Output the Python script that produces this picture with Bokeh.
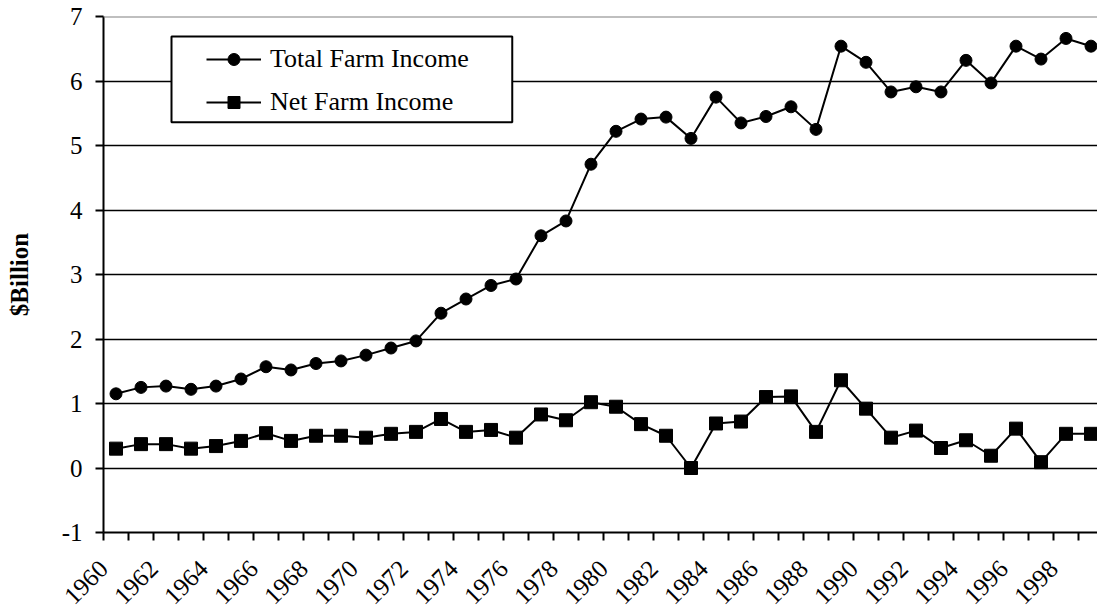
from bokeh.plotting import figure
from bokeh.models import (FixedTicker, Range1d, Legend, LegendItem,
                          BoxAnnotation, Span)
from bokeh.embed import file_html
from bokeh.resources import INLINE

# Farm income, $ billion, 1960-1999
years = list(range(1960, 2000))
total_income = [1.15, 1.25, 1.27, 1.22, 1.27, 1.38, 1.57, 1.52, 1.62, 1.66,
                1.75, 1.86, 1.97, 2.40, 2.62, 2.83, 2.93, 3.60, 3.83, 4.71,
                5.22, 5.41, 5.44, 5.11, 5.75, 5.35, 5.45, 5.60, 5.25, 6.54,
                6.29, 5.83, 5.91, 5.83, 6.32, 5.97, 6.54, 6.34, 6.66, 6.54]
net_income = [0.30, 0.37, 0.37, 0.30, 0.34, 0.42, 0.54, 0.42, 0.50, 0.50,
              0.47, 0.53, 0.56, 0.76, 0.56, 0.59, 0.47, 0.83, 0.74, 1.02,
              0.95, 0.68, 0.50, 0.00, 0.69, 0.72, 1.10, 1.11, 0.56, 1.36,
              0.92, 0.47, 0.58, 0.31, 0.43, 0.19, 0.61, 0.09, 0.53, 0.53]
year_labels = [str(y) for y in range(1960, 2000, 2)]
y_ticks = list(range(-1, 8))

FONT = "Times New Roman, Liberation Serif, serif"

# each year occupies one category slot; points sit in the middle of the slot
x_mid = [y + 0.5 for y in years]

p = figure(width=1097, height=614, output_backend="svg", toolbar_location=None,
           x_range=Range1d(1960, 1999.76), y_range=Range1d(-1, 7),
           min_border_left=103, min_border_right=0, min_border_top=16,
           min_border_bottom=82)
p.outline_line_color = None
p.background_fill_color = "white"
p.border_fill_color = "white"

# axes
p.xaxis.ticker = FixedTicker(ticks=years)
p.xaxis.major_label_overrides = {y: (str(y) if str(y) in year_labels else "")
                                 for y in years}
p.xaxis.major_label_orientation = 0.785398
p.xaxis.minor_tick_line_color = None
p.xaxis.major_tick_in = 0
p.xaxis.major_tick_out = 8
p.xaxis.major_label_standoff = 24
p.xaxis.axis_line_width = 2
p.xaxis.major_tick_line_width = 2

p.yaxis.ticker = FixedTicker(ticks=y_ticks)
p.yaxis.major_label_overrides = {t: str(t) for t in y_ticks}
p.yaxis.minor_tick_line_color = None
p.yaxis.major_tick_in = 0
p.yaxis.major_tick_out = 8
p.yaxis.major_label_standoff = 13
p.yaxis.axis_line_width = 2
p.yaxis.major_tick_line_width = 2
p.yaxis.axis_label = "$Billion"
p.yaxis.axis_label_text_font_style = "bold"
p.yaxis.axis_label_standoff = 26

for ax in (p.xaxis, p.yaxis):
    ax.major_label_text_font = FONT
    ax.major_label_text_font_size = "25px"
    ax.major_label_text_color = "black"
    ax.axis_label_text_font = FONT
    ax.axis_label_text_font_size = "25px"
    ax.axis_label_text_color = "black"
    ax.axis_line_color = "black"
    ax.major_tick_line_color = "black"

# horizontal gridlines
p.xgrid.grid_line_color = None
p.ygrid.ticker = FixedTicker(ticks=[0, 1, 2, 3, 4, 5, 6])
p.ygrid.grid_line_color = "black"
p.ygrid.grid_line_width = 1.5
p.add_layout(Span(location=7, dimension="width", line_color="#808080",
                  line_width=2))

# series
tl = p.line(x_mid, total_income, line_color="black", line_width=2)
ts = p.scatter(x_mid, total_income, marker="circle", size=12,
               fill_color="black", line_color="black")
nl = p.line(x_mid, net_income, line_color="black", line_width=2)
ns = p.scatter(x_mid, net_income, marker="square", size=13,
               fill_color="black", line_color="black")

# legend frame
p.add_layout(BoxAnnotation(left=1962.72, right=1976.35, top=6.69, bottom=5.36,
                           fill_color="white", fill_alpha=1,
                           line_color="black", line_alpha=1, line_width=2,
                           level="overlay"))

legend = Legend(items=[LegendItem(label="Total Farm Income", renderers=[tl, ts]),
                       LegendItem(label="Net Farm Income", renderers=[nl, ns])],
                location=(103, 415), padding=7, spacing=13,
                glyph_width=55, glyph_height=30, label_height=30,
                label_standoff=9,
                label_text_font=FONT, label_text_font_size="26px",
                label_text_color="black",
                border_line_color=None, background_fill_alpha=0)
legend.level = "overlay"
p.add_layout(legend)

open("out.html", "w").write(file_html(p, INLINE))
